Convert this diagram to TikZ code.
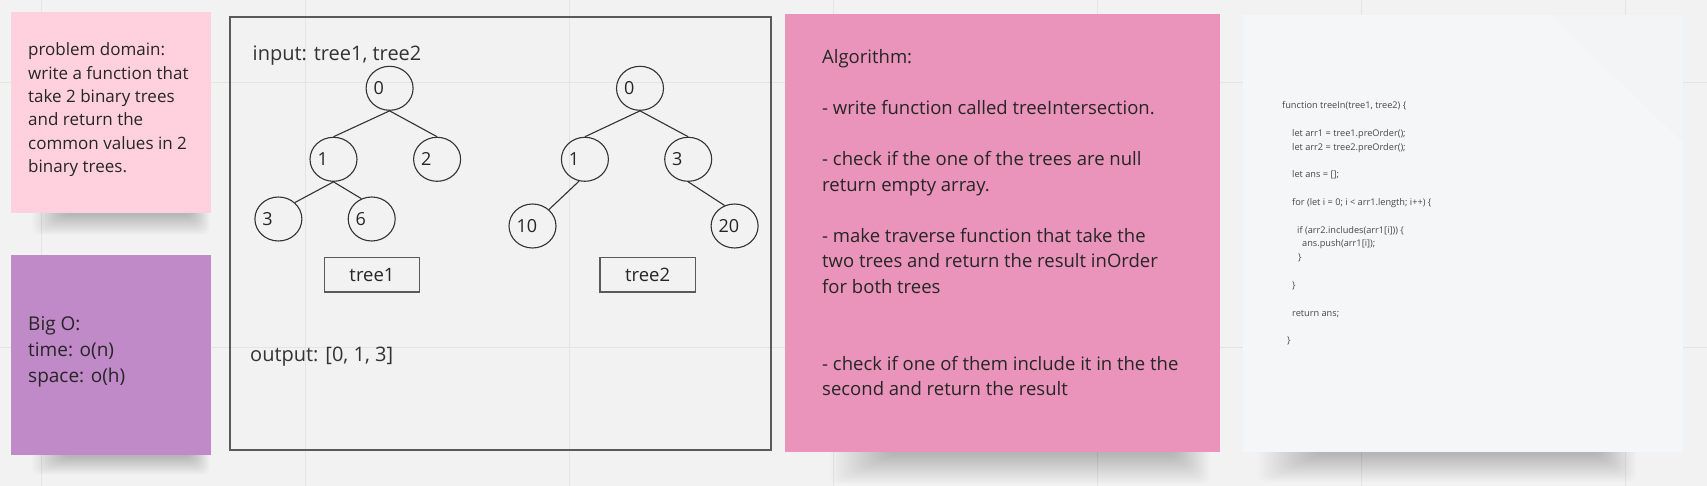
\documentclass[tikz,border=0pt]{standalone}
\usepackage{fontspec}
\setmainfont{Open Sans}
\usetikzlibrary{shapes.geometric}
\definecolor{bg}{HTML}{F2F2F2}
\definecolor{gridc}{HTML}{E4E4E4}
\definecolor{pinkA}{HTML}{FFD1DF}
\definecolor{purpleB}{HTML}{C089C7}
\definecolor{pinkC}{HTML}{EA94BB}
\definecolor{paperD}{HTML}{F5F6F8}
\definecolor{foldD}{HTML}{EBECEE}
\definecolor{ink}{HTML}{262626}
\definecolor{linec}{HTML}{333333}
\definecolor{framec}{HTML}{5A5A5A}
\newcommand\dg[1]{\makebox[32pt][l]{#1}}
% soft shadow band: x1, x2, bottom y of sticky, depth, inset step
\newcommand\shband[5]{%
  \foreach \i in {0,...,19}{%
    \fill[black, opacity=0.012, rounded corners=8pt]
      ({#1+\i*#5},#3-10) rectangle ({#2-\i*#5*0.6},{#3+#4*(1-\i/21)});
  }}
\begin{document}
\begin{tikzpicture}[x=1pt,y=-1pt,
  sticky/.style={rectangle, inner sep=0pt, draw=none},
  ln/.style={anchor=base west, inner sep=0pt, text=ink},
  fA/.style={font=\fontsize{17}{17}\selectfont},
  fB/.style={font=\fontsize{19}{19}\selectfont},
  fC/.style={font=\fontsize{18.5}{18.5}\selectfont},
  fM/.style={font=\fontsize{20}{20}\selectfont},
  fD/.style={font=\fontsize{9.2}{9.2}\selectfont, text=ink!85},
  tnode/.style={ellipse, draw=linec, line width=1.1pt, minimum width=47pt, minimum height=44pt, inner sep=0pt, text=ink, font=\fontsize{18}{18}\selectfont},
  tlabel/.style={rectangle, draw=framec, line width=1.2pt, minimum width=95.4pt, minimum height=34.3pt, inner sep=0pt, text=ink, font=\fontsize{18.5}{18.5}\selectfont},
  edge/.style={draw=linec, line width=1.1pt}]
\useasboundingbox (0,0) rectangle (1707,486);
\fill[bg] (0,0) rectangle (1707,486);
\foreach \gx in {41,305,569,833,1097,1361,1625} \draw[gridc, line width=1pt] (\gx,0) -- (\gx,486);
\foreach \gy in {83,347} \draw[gridc, line width=1pt] (0,\gy) -- (1707,\gy);

% shadows
\shband{32}{210}{213}{22}{1.6}
\shband{32}{210}{455}{20}{1.6}
\shband{830}{1210}{452}{32}{3}
\shband{1258}{1636}{452}{30}{3}

% stickies
\node[sticky, fill=pinkA, minimum width=200pt, minimum height=201pt] (s1) at (111,112.5) {};
\node[sticky, fill=purpleB, minimum width=200pt, minimum height=200pt] (s2) at (111,355) {};
\node[sticky, fill=pinkC, minimum width=435pt, minimum height=438pt] (s3) at (1002.5,233) {};
\node[sticky, fill=paperD, minimum width=440pt, minimum height=437pt] (s4) at (1463,233.5) {};
\fill[foldD, opacity=0.2] (1550,15) -- (1683,15) -- (1683,142) -- cycle;

% sticky 1 text
\node[ln,fA] (p1) at (28,56) {problem domain:};
\node[ln,fA] (p2) at (28,79.3) {write a function that};
\node[ln,fA] (p3) at (28,102.6) {take 2 binary trees};
\node[ln,fA] (p4) at (28,126) {and return the};
\node[ln,fA] (p5) at (28,149.3) {common values in 2};
\node[ln,fA] (p6) at (28,172.6) {binary trees.};

% sticky 2 text
\node[ln,fB] (o1) at (28,330) {Big O:};
\node[ln,fB] (o2) at (28,356) {time: o(n)};
\node[ln,fB] (o3) at (28,382) {space: o(h)};

% algorithm text
\node[ln,fC] (a1t) at (822,64) {Algorithm:};
\node[ln,fC] (a2t) at (822,115) {- write function called treeIntersection.};
\node[ln,fC] (a3t) at (822,166) {- check if the one of the trees are null};
\node[ln,fC] (a4t) at (822,191.5) {return empty array.};
\node[ln,fC] (a5t) at (822,242.5) {- make traverse function that take the};
\node[ln,fC] (a6t) at (822,268) {two trees and return the result inOrder};
\node[ln,fC] (a7t) at (822,293.5) {for both trees};
\node[ln,fC] (a8t) at (822,370) {- check if one of them include it in the the};
\node[ln,fC] (a9t) at (822,395.5) {second and return the result};

% code text
\node[ln,fD] (c1) at (1282,109) {function treeIn(tree1, tree2) \{};
\node[ln,fD] (c2) at (1292,136.6) {let arr1 = tree1.preOrder();};
\node[ln,fD] (c3) at (1292,150.4) {let arr2 = tree2.preOrder();};
\node[ln,fD] (c4) at (1292,178) {let ans = [];};
\node[ln,fD] (c5) at (1292,205.6) {for (let i = 0; i < arr1.length; i++) \{};
\node[ln,fD] (c6) at (1297,233.2) {if (arr2.includes(arr1[i])) \{};
\node[ln,fD] (c7) at (1302,247) {ans.push(arr1[i]);};
\node[ln,fD] (c8) at (1298,260.8) {\}};
\node[ln,fD] (c9) at (1292,288.4) {\}};
\node[ln,fD] (c10) at (1292,316) {return ans;};
\node[ln,fD] (c11) at (1287,343.6) {\}};

% main box
\node[draw=framec, line width=1.5pt, minimum width=541pt, minimum height=433pt, inner sep=0pt] (mainbox) at (500.5,233.5) {};
\node[ln,fM, text=linec] (inp) at (252.5,61) {input: tree1, tree2};
\node[ln,fM, text=linec] (outp) at (250,361) {output: [0, 1, 3]};

% tree 1
\node[tnode] (ta0) at (389.6,88.3) {\dg{0}};
\node[tnode] (ta1) at (333.5,159.3) {\dg{1}};
\node[tnode] (ta2) at (437.1,159.3) {\dg{2}};
\node[tnode] (ta3) at (278.4,219) {\dg{3}};
\node[tnode] (ta6) at (371.7,219) {\dg{6}};
\draw[edge] (ta0.south) -- (ta1.north);
\draw[edge] (ta0.south) -- (ta2.north);
\draw[edge] (ta1.south) -- (ta3.45);
\draw[edge] (ta1.south) -- (ta6.117);

% tree 2
\node[tnode] (tb0) at (640,88.3) {\dg{0}};
\node[tnode] (tb1) at (584.9,159.3) {\dg{1}};
\node[tnode] (tb3) at (688.2,159.3) {\dg{3}};
\node[tnode] (tb10) at (532.5,226) {\dg{10}};
\node[tnode] (tb20) at (734.6,226) {\dg{20}};
\draw[edge] (tb0.south) -- (tb1.north);
\draw[edge] (tb0.south) -- (tb3.north);
\draw[edge] (tb1.255) -- (tb10.45);
\draw[edge] (tb3.south) -- (tb20.116);

\node[tlabel] (lab1) at (372,274.8) {tree1};
\node[tlabel] (lab2) at (647.6,274.8) {tree2};
\end{tikzpicture}
\end{document}
